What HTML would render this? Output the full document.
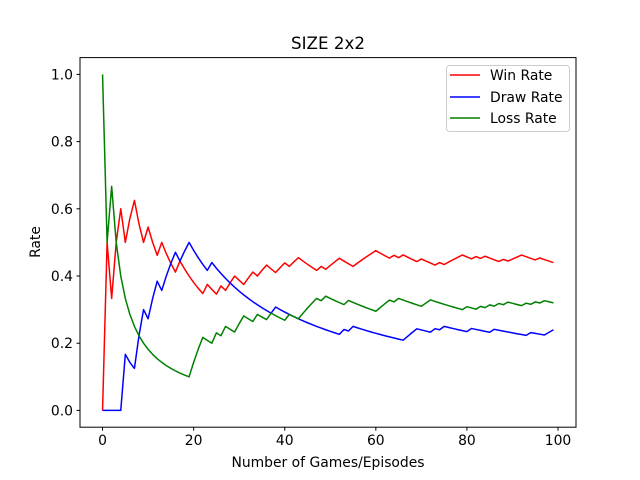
<!DOCTYPE html>
<html><head><meta charset="utf-8"><style>
html,body{margin:0;padding:0;background:#fff;}
svg{display:block;font-family:"DejaVu Sans","Liberation Sans",sans-serif;}
</style></head><body>
<svg id="chart" width="640" height="480" viewBox="0 0 640 480">
<rect x="0" y="0" width="640" height="480" fill="#fff"/>
<text x="328" y="49" font-size="16.7" text-anchor="middle">SIZE 2x2</text>
<g id="plot"></g>
<rect x="80" y="57.6" width="496" height="369.6" fill="none" stroke="#000" stroke-width="1"/>
<g id="ticks"></g>
<text x="328" y="467" font-size="13.9" text-anchor="middle">Number of Games/Episodes</text>
<text x="0" y="0" font-size="13.9" text-anchor="middle" transform="translate(40,242) rotate(-90)">Rate</text>
<g>
<rect x="446.5" y="65.5" width="123" height="66" rx="3" fill="#fff" fill-opacity="0.8" stroke="#ccc"/>
<g><line x1="450" y1="75" x2="480" y2="75" stroke="red" stroke-width="1.5"/><text x="490" y="80" font-size="13.9">Win Rate</text></g>
<g><line x1="450" y1="97" x2="480" y2="97" stroke="blue" stroke-width="1.5"/><text x="490" y="102" font-size="13.9">Draw Rate</text></g>
<g><line x1="450" y1="118" x2="480" y2="118" stroke="green" stroke-width="1.5"/><text x="490" y="123" font-size="13.9">Loss Rate</text></g>
</g>
</svg>
<script>
// game outcomes per episode (W=win, D=draw, L=loss)
const outcomes = ["L","W","L","W","W","D","W","W","D","D","W","D","D","W","D","D","D","W","D","D",
"L","L","L","W","D","L","W","L","W","W","L","L","W","W","L","W","W","L","D","W",
"W","L","W","W","L","L","L","L","W","L","W","W","W","D","L","D","W","W","W","W",
"W","L","L","L","W","L","W","D","D","D","W","L","L","D","W","D","W","W","W","W",
"L","D","W","L","W","L","D","L","W","L","W","W","W","L","D","L","W","L","D","D"];
const xTicks = [0,20,40,60,80,100];
const yTicks = [0.0,0.2,0.4,0.6,0.8,1.0];
const seriesKeys = ["W","D","L"];
const seriesColors = ["red","blue","green"];
const seriesNames = ["win-rate-line","draw-rate-line","loss-rate-line"];

const NS="http://www.w3.org/2000/svg";
const xmin=-4.95,xmax=103.95,ymin=-0.05,ymax=1.05;
function xs(v){return 80+(v-xmin)/(xmax-xmin)*496;}
function ys(v){return 427.2-(v-ymin)/(ymax-ymin)*369.6;}
const plot=document.getElementById('plot');
seriesKeys.forEach((k,si)=>{
  let c=0,pts=[];
  outcomes.forEach((o,i)=>{ if(o===k)c++; pts.push(xs(i).toFixed(2)+","+ys(c/(i+1)).toFixed(2)); });
  const pl=document.createElementNS(NS,'polyline');
  pl.setAttribute('points',pts.join(' '));
  pl.setAttribute('fill','none');
  pl.setAttribute('stroke',seriesColors[si]);
  pl.setAttribute('stroke-width','1.5');
  pl.setAttribute('stroke-linejoin','round');
  
  
  plot.appendChild(pl);
});
const tg=document.getElementById('ticks');
xTicks.forEach(t=>{
  const g=document.createElementNS(NS,'g');
  
  
  const x=xs(t);
  g.innerHTML=`<line x1="${x}" y1="427.2" x2="${x}" y2="430.7" stroke="#000"/><text x="${x}" y="445" font-size="13.9" text-anchor="middle">${t}</text>`;
  tg.appendChild(g);
});
yTicks.forEach(t=>{
  const g=document.createElementNS(NS,'g');
  
  
  const y=ys(t);
  g.innerHTML=`<line x1="76.5" y1="${y}" x2="80" y2="${y}" stroke="#000"/><text x="73" y="${y+5}" font-size="13.9" text-anchor="end">${t.toFixed(1)}</text>`;
  tg.appendChild(g);
});
</script>
</body></html>
